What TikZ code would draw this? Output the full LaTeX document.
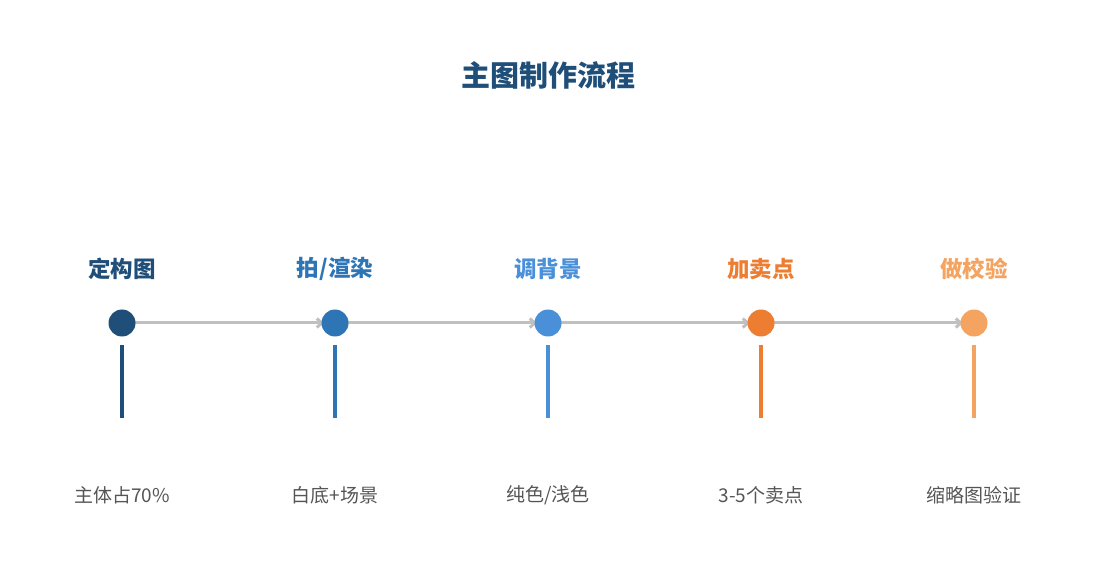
\documentclass[tikz,border=0pt]{standalone}
\usepackage{fontspec}
\newfontfamily\cjk{Noto Sans CJK SC}
\usetikzlibrary{arrows.meta}
\definecolor{c1}{HTML}{1F4E79}
\definecolor{c2}{HTML}{2E75B6}
\definecolor{c3}{HTML}{4A90D9}
\definecolor{c4}{HTML}{ED7D31}
\definecolor{c5}{HTML}{F4A460}
\definecolor{gl}{HTML}{C0C0C0}
\definecolor{tx}{HTML}{555555}
\begin{document}
\begin{tikzpicture}[x=1pt,y=-1pt,
  dot/.style={circle,fill=#1,minimum size=27pt,inner sep=0pt},
  head/.style={font=\cjk\bfseries\fontsize{22.5}{26}\selectfont,text=#1},
  sub/.style={font=\cjk\fontsize{19}{22}\selectfont,text=tx},
  stem/.style={line width=3.5pt,draw=#1},
  conn/.style={draw=gl,line width=3pt,-{Straight Barb[length=5pt,width=9pt]}}]
\useasboundingbox (0,0) rectangle (1095,585);
\node[font=\cjk\bfseries\fontsize{29}{33}\selectfont,text=c1] (title) at (548,75) {主图制作流程};
\foreach \i/\x/\c/\h/\s in {1/122/c1/{定构图}/{主体占70\%},2/335/c2/{拍/渲染}/{白底+场景},3/548/c3/{调背景}/{纯色/浅色},4/761/c4/{加卖点}/{3-5个卖点},5/974/c5/{做校验}/{缩略图验证}}{
  \node[head=\c] (h\i) at (\x,269) {\h};
  \coordinate (a\i) at (\x,345);
  \coordinate (b\i) at (\x,418);
  \draw[stem=\c] (a\i) -- (b\i);
  \node[sub] (s\i) at (\x,495) {\s};
}
\foreach \i/\x in {1/122,2/335,3/548,4/761,5/974}{\coordinate (p\i) at (\x,323);}
\foreach \i/\j in {1/2,2/3,3/4,4/5}{\draw[conn] (p\i) -- ([xshift=-11pt]p\j);}
\foreach \i/\x/\c in {1/122/c1,2/335/c2,3/548/c3,4/761/c4,5/974/c5}{\node[dot=\c] (d\i) at (\x,323) {};}
\end{tikzpicture}
\end{document}
